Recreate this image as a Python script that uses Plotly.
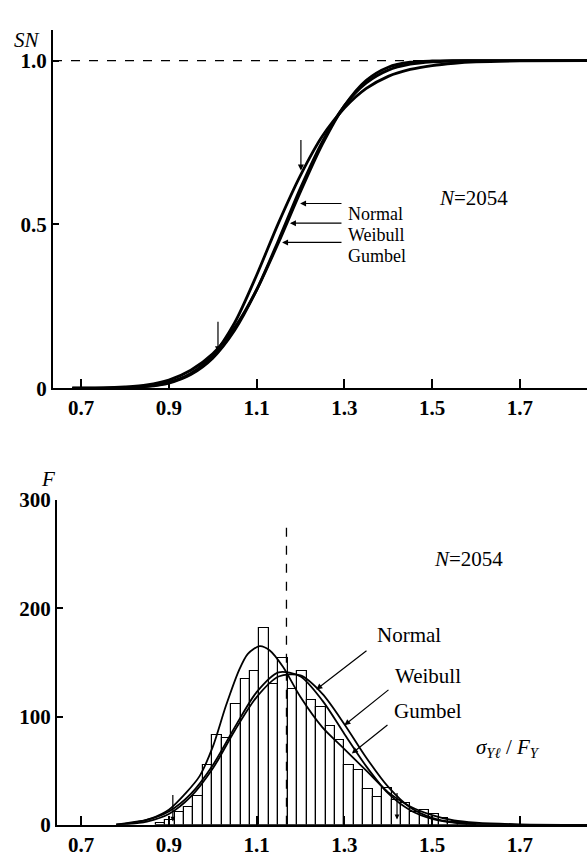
import plotly.graph_objects as go

W, H = 587, 866

# ---------------- data: top (cumulative) ----------------
cdf_x = [0.68, 0.75, 0.80, 0.85, 0.90, 0.95, 1.00, 1.05, 1.10, 1.15, 1.20, 1.25,
         1.30, 1.35, 1.40, 1.45, 1.50, 1.55, 1.60, 1.70, 1.86]
cdf_normal = [0, 0.0004, 0.0016, 0.0055, 0.016, 0.042, 0.092, 0.177, 0.300, 0.452,
              0.611, 0.753, 0.862, 0.932, 0.971, 0.989, 0.9965, 0.999, 1.0, 1.0, 1.0]
cdf_weibull = [0, 0.001, 0.004, 0.010, 0.025, 0.055, 0.105, 0.185, 0.300, 0.445,
               0.600, 0.745, 0.862, 0.940, 0.980, 0.995, 0.999, 1.0, 1.0, 1.0, 1.0]
cdf_gumbel = [0, 0.0005, 0.002, 0.006, 0.018, 0.045, 0.100, 0.200, 0.345, 0.505,
              0.650, 0.770, 0.855, 0.915, 0.952, 0.973, 0.985, 0.992, 0.996, 0.999, 1.0]

# ---------------- data: bottom (histogram + fitted frequency curves) ----------------
bin_width = 0.0215
bin_first = 0.87
counts = [2, 4, 12, 16, 27, 55, 83, 80, 112, 135, 142, 182,
          130, 154, 125, 142, 115, 109, 91, 78, 55, 51, 33, 26,
          34, 23, 20, 12, 14, 10, 6, 3, 2, 1]

pdf_x = [0.78, 0.80, 0.85, 0.90, 0.95, 1.00, 1.05, 1.10, 1.15, 1.20, 1.25, 1.30,
         1.35, 1.40, 1.45, 1.50, 1.55, 1.60, 1.70, 1.86]
pdf_normal = [0.5, 1.4, 4.5, 12.3, 28.5, 55, 90, 122.6, 140.9, 137, 114.7, 84,
              54, 29, 13.5, 5.5, 2, 0.6, 0, 0]
pdf_weibull = [0.2, 0.5, 3, 10, 26, 52, 87, 118, 137, 138, 121, 93,
               62, 35, 16, 6.5, 2.2, 0.6, 0, 0]
gum_x = [0.78, 0.82, 0.86, 0.90, 0.94, 0.97, 1.00, 1.03, 1.06, 1.08, 1.107, 1.13,
         1.16, 1.20, 1.25, 1.30, 1.35, 1.40, 1.45, 1.50, 1.55, 1.60, 1.70, 1.86]
pdf_gumbel = [0, 2, 6, 14, 30, 45, 72, 110, 143, 158, 165, 161,
              146, 118, 90, 70, 50, 30, 17, 9, 4, 2, 0.5, 0]

mean_value = 1.168
xticks = [0.7, 0.9, 1.1, 1.3, 1.5, 1.7]
xtick_text = ["0.7", "0.9", "1.1", "1.3", "1.5", "1.7"]

FONT = "Liberation Serif"


def px(x):
    return x / W


def py(y):
    return 1 - y / H


fig = go.Figure()

line_top = dict(color="black", width=2.8)
for ys in (cdf_normal, cdf_weibull, cdf_gumbel):
    fig.add_trace(go.Scatter(x=cdf_x, y=ys, mode="lines", line=dict(line_top, shape="spline", smoothing=0.8),
                             xaxis="x", yaxis="y", showlegend=False, hoverinfo="skip"))

centers = [bin_first + bin_width * (i + 0.5) for i in range(len(counts))]
fig.add_trace(go.Bar(x=centers, y=counts, width=bin_width, xaxis="x2", yaxis="y2",
                     marker=dict(color="white", line=dict(color="black", width=1.2)),
                     showlegend=False, hoverinfo="skip"))

line_bot = dict(color="black", width=1.8)
fig.add_trace(go.Scatter(x=pdf_x, y=pdf_normal, mode="lines", line=dict(line_bot, shape="spline", smoothing=0.8),
                         xaxis="x2", yaxis="y2", showlegend=False, hoverinfo="skip"))
fig.add_trace(go.Scatter(x=pdf_x, y=pdf_weibull, mode="lines", line=dict(line_bot, shape="spline", smoothing=0.8),
                         xaxis="x2", yaxis="y2", showlegend=False, hoverinfo="skip"))
fig.add_trace(go.Scatter(x=gum_x, y=pdf_gumbel, mode="lines", line=dict(line_bot, shape="spline", smoothing=0.8),
                         xaxis="x2", yaxis="y2", showlegend=False, hoverinfo="skip"))

tickfont = dict(family=FONT, size=21, color="black", weight="bold")
axis_common = dict(showgrid=False, zeroline=False, showline=True, linecolor="black",
                   linewidth=2, ticks="inside", tickcolor="black", tickfont=tickfont)

fig.update_layout(
    width=W, height=H, margin=dict(l=0, r=0, t=0, b=0),
    paper_bgcolor="white", plot_bgcolor="white", bargap=0,
    xaxis=dict(axis_common, domain=[px(53), 1], range=[0.636, 1.853], anchor="y",
               tickvals=xticks, ticktext=xtick_text, ticklen=9, tickwidth=1.5),
    yaxis=dict(axis_common, domain=[py(387), py(18)], range=[0, 1.095], anchor="x",
               tickvals=[0, 0.5, 1.0], ticktext=["0", "0.5", "1.0"], ticklen=6, tickwidth=1.5),
    xaxis2=dict(axis_common, domain=[px(57), 1], range=[0.645, 1.853], anchor="y2",
                tickvals=xticks, ticktext=xtick_text, ticklen=9, tickwidth=1.5),
    yaxis2=dict(axis_common, domain=[py(836), py(502)], range=[0, 300], anchor="x2",
                tickvals=[0, 100, 200, 300], ticktext=["0", "100", "200", "300"], ticklen=6, tickwidth=1.5),
)

shapes = [
    dict(type="line", xref="x domain", yref="y", x0=0, x1=1, y0=1.0, y1=1.0,
         line=dict(color="black", width=1.3, dash="dash")),
    dict(type="line", xref="x2", yref="y2", x0=mean_value, x1=mean_value, y0=0, y1=282,
         line=dict(color="black", width=1.3, dash="dash")),
]
fig.update_layout(shapes=shapes)

lab = dict(family=FONT, size=21, color="black")
lab_small = dict(family=FONT, size=18, color="black")
ann = []
ann.append(dict(text="<i>SN</i>", x=px(12), y=py(14), xref="paper", yref="paper", xanchor="left",
                yanchor="top", showarrow=False, font=lab))
ann.append(dict(text="<i>F</i>", x=px(39), y=py(480), xref="paper", yref="paper", showarrow=False, font=lab))
ann.append(dict(text="<i>N</i>=2054", x=px(510), y=py(177), xref="paper", yref="paper", showarrow=False, font=lab))
ann.append(dict(text="<i>N</i>=2054", x=px(505), y=py(563), xref="paper", yref="paper", showarrow=False, font=lab))
ann.append(dict(text="<i>σ</i><sub><i>Yℓ</i></sub> / <i>F</i><sub><i>Y</i></sub>", x=px(542), y=py(772),
                xref="paper", yref="paper", showarrow=False, font=lab))

arrow = dict(showarrow=True, arrowhead=2, arrowsize=1, arrowwidth=1.2, arrowcolor="black", text="")

# top labels with arrows
for name, ly, tipx, tipy in (("Normal", 195, 1.199, 0.564), ("Weibull", 217, 1.176, 0.504), ("Gumbel", 239, 1.158, 0.445)):
    ann.append(dict(text=name, x=px(346), y=py(ly), xref="paper", yref="paper", xanchor="left",
                    showarrow=False, font=lab_small))
    ann.append(dict(arrow, x=tipx, y=tipy, xref="x", yref="y", ax=343 - (81 + (tipx - 0.7) * 439), ay=0))
# vertical arrows on top curve
for tx, ty in ((1.201, 0.665), (1.012, 0.11)):
    ann.append(dict(arrow, x=tx, y=ty, xref="x", yref="y", ax=0, ay=-32))

# bottom labels with arrows
for name, lx, ly, tipx, tipy, tailx, taily in (("Normal", 375, 655, 1.236, 125, 368, 657),
                                                ("Weibull", 393, 697, 1.300, 92, 390, 697),
                                                ("Gumbel", 392, 733, 1.317, 66, 389, 733)):
    ann.append(dict(text=name, x=px(lx), y=py(ly), xref="paper", yref="paper", xanchor="left",
                    showarrow=False, font=lab))
    tipx_px = 81 + (tipx - 0.7) * 439
    tipy_px = 836 - tipy * 1.113
    ann.append(dict(arrow, x=tipx, y=tipy, xref="x2", yref="y2", ax=tailx - tipx_px, ay=taily - tipy_px))
for tx, ty in ((0.909, 3), (1.42, 5)):
    ann.append(dict(arrow, x=tx, y=ty, xref="x2", yref="y2", arrowsize=0.8, ax=0, ay=-28))

fig.update_layout(annotations=ann)
fig.write_html("out.html")
